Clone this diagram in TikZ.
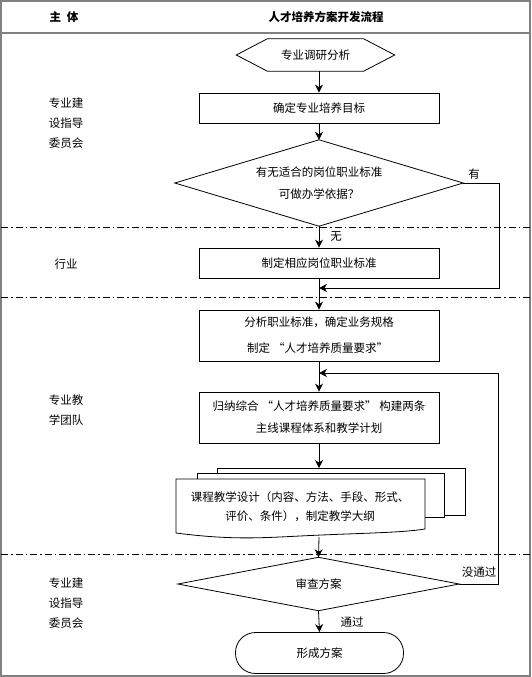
\documentclass[tikz,border=0pt]{standalone}
\usepackage{fontspec}
\setmainfont{Noto Sans CJK SC}
\usetikzlibrary{arrows.meta}
\newcommand{\oqt}{\makebox[1.25em][r]{“}}
\newcommand{\cqt}{\makebox[1.25em][l]{”}}
\begin{document}
\begin{tikzpicture}[x=1pt,y=-1pt,
  font=\fontsize{11.5}{20}\selectfont,
  ln/.style={line width=0.8pt},
  arr/.style={ln,-{Stealth[length=8pt,width=8pt,inset=2.5pt]}},
  proc/.style={draw,ln,minimum width=240pt,inner sep=0pt,align=center},
  blank/.style={inner sep=0pt,align=center},
  sepline/.style={line width=0.7pt,dash pattern=on 7pt off 3pt on 1.5pt off 3pt},
  lab/.style={inner sep=0pt,align=left},
  frame/.style={draw=gray,line width=1.2pt},
  page/.style={ln,fill=white}
]
\useasboundingbox (0,0) rectangle (531,677);
% frame and header
\draw[frame] (1,1) rectangle (530,676);
\draw[frame] (1,33) -- (530,33);
\node[blank,font=\fontsize{11.5}{14}\selectfont\bfseries] (hz) at (64,17) {主\hspace{6pt}体};
\node[blank,font=\fontsize{11.5}{14}\selectfont\bfseries] (ht) at (326,17) {人才培养方案开发流程};
% separators
\draw[sepline] (1,227) -- (530,227);
\draw[sepline] (1,297) -- (530,297);
\draw[sepline] (1,554) -- (530,554);
% left labels
\node[lab] (g1) at (66,123) {专业建\\设指导\\委员会};
\node[lab] (g2) at (66,264) {行业};
\node[lab] (g3) at (66,410) {专业教\\学团队};
\node[lab] (g4) at (66,603) {专业建\\设指导\\委员会};
% hexagon
\node[blank,minimum width=158pt,minimum height=32pt] (h) at (315.5,55) {专业调研分析};
\draw[ln] (h.west) -- ([xshift=31pt]h.north west) -- ([xshift=-31pt]h.north east) -- (h.east)
  -- ([xshift=-31pt]h.south east) -- ([xshift=31pt]h.south west) -- cycle;
% box 1
\node[proc,minimum height=30pt] (b1) at (319,108) {确定专业培养目标};
% diamond 1
\node[blank,minimum width=288pt,minimum height=86pt,font=\fontsize{11.5}{22}\selectfont] (d1) at (319,183)
  {有无适合的岗位职业标准\\可做办学依据？};
\draw[ln] (d1.west) -- (d1.north) -- (d1.east) -- (d1.south) -- cycle;
% box 2
\node[proc,minimum height=30pt] (b2) at (319,263) {制定相应岗位职业标准};
% box 3
\node[proc,minimum height=51pt,font=\fontsize{11.5}{26}\selectfont] (b3) at (319,335.5)
  {分析职业标准，确定业务规格\\制定\oqt 人才培养质量要求\cqt};
% box 4
\node[proc,minimum height=51pt,font=\fontsize{11.5}{22}\selectfont] (b4) at (319,417.5)
  {归纳综合\oqt 人才培养质量要求\cqt 构建两条\\主线课程体系和教学计划};
% multi document
\draw[page] (217,473) -- (217,468) -- (465,468) -- (465,515.5) -- (444,515.5);
\draw[page] (197,479) -- (197,473) -- (444,473) -- (444,517.5) -- (425,517.5);
\draw[page] (176,479) -- (425,479) -- (425,529)
  .. controls (400,533) and (360,533) .. (300,536)
  .. controls (260,538) and (230,540) .. (176,533) -- cycle;
\node[blank,font=\fontsize{11.5}{19}\selectfont] (doc) at (300,507)
  {课程教学设计（内容、方法、手段、形式、\\评价、条件），制定教学大纲};
\coordinate (p3top) at (319,468);
\coordinate (dbot) at (319,537);
% diamond 2
\node[blank,minimum width=281pt,minimum height=53pt] (d2) at (318.5,584) {审查方案};
\draw[ln] (d2.west) -- (d2.north) -- (d2.east) -- (d2.south) -- cycle;
% terminal
\node[draw,ln,rounded corners=20pt,minimum width=168pt,minimum height=41pt,inner sep=0pt] (t) at (319.5,653) {形成方案};
% branch points
\coordinate (r1) at (499,183);
\coordinate (m1) at (319,288);
\coordinate (r2) at (498,584);
\coordinate (m2) at (319,373);
% connectors
\draw[arr] (h.south -| b1.north) -- (b1.north);
\draw[arr] (b1.south) -- (d1.north);
\draw[arr] (d1.south) -- (b2.north);
\draw[arr] (d1.east) -- (r1) |- (m1);
\draw[arr] (b2.south) -- (b3.north);
\draw[arr] (b3.south) -- (b4.north);
\draw[arr] (b4.south) -- (p3top);
\draw[arr] (dbot) -- (d2.north);
\draw[arr] (d2.east) -- (r2) |- (m2);
\draw[arr] (d2.south) -- (t.north);
% branch labels
\node[blank] (ly) at (474,174) {有};
\node[blank] (ln) at (336,237) {无};
\node[blank] (lf) at (479,572) {没通过};
\node[blank] (lp) at (352,622) {通过};
\end{tikzpicture}
\end{document}
